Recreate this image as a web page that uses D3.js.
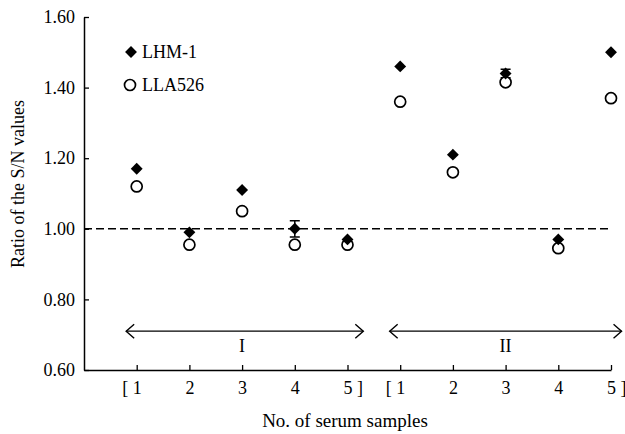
<!DOCTYPE html>
<html>
<head>
<meta charset="utf-8">
<script src="https://cdn.jsdelivr.net/npm/d3@7"></script>
<style>
  body { margin: 0; background: #fff; }
</style>
</head>
<body>
<script>
// sample positions 1..10 (two groups of five)
var positions = [1, 2, 3, 4, 5, 6, 7, 8, 9, 10];
var tickLabels = ["1", "2", "3", "4", "5", "1", "2", "3", "4", "5"];
var lhm1 = [1.17, 0.99, 1.11, 1.00, 0.97, 1.46, 1.21, 1.44, 0.97, 1.50];
var lhm1Err = [0, 0, 0, 0.023, 0, 0, 0, 0.012, 0, 0];
var lla526 = [1.12, 0.955, 1.05, 0.955, 0.955, 1.36, 1.16, 1.415, 0.945, 1.37];
var yTicks = [0.60, 0.80, 1.00, 1.20, 1.40, 1.60];
var groups = [{label: "I", from: 0.8, to: 5.3, mid: 3}, {label: "II", from: 5.8, to: 10.2, mid: 8}];

var FONT = "'Liberation Serif'";
var FS = 18;

var width = 625, height = 434;
var svg = d3.select("body").append("svg")
  .attr("width", width).attr("height", height);

var x = d3.scaleLinear().domain([0, 10]).range([84, 611]);
var y = d3.scaleLinear().domain([0.60, 1.60]).range([370, 17]);

// y axis
var yAxis = d3.axisLeft(y).tickValues(yTicks).tickSize(-5).tickSizeOuter(0)
  .tickFormat(d3.format(".2f"));
var gy = svg.append("g").attr("transform", "translate(" + x(0) + ",0)").call(yAxis)
  .attr("font-size", FS);
gy.select(".domain").attr("stroke-width", 1.5);
gy.selectAll(".tick line").attr("stroke-width", 1.3);
gy.selectAll(".tick text").attr("x", -9);

// x axis
var xAxis = d3.axisBottom(x).tickValues(positions).tickSize(-5).tickSizeOuter(0)
  .tickFormat(function(d, i) { return tickLabels[i]; });
var gx = svg.append("g").attr("transform", "translate(0," + y(0.60) + ")").call(xAxis)
  .attr("font-size", FS);
gx.select(".domain").attr("stroke-width", 1.5);
gx.selectAll(".tick line").attr("stroke-width", 1.3);
gx.selectAll(".tick text").attr("y", 11);

// brackets around each group
gx.selectAll(".tick").each(function(d, i) {
  if (i == 0 || i == 5) {
    d3.select(this).append("text").attr("y", 11).attr("dy", "0.71em")
      .attr("x", -9).attr("text-anchor", "end").text("[");
  }
  if (i == 4 || i == 9) {
    d3.select(this).append("text").attr("y", 11).attr("dy", "0.71em")
      .attr("x", 9).attr("text-anchor", "start").text("]");
  }
});

// axis titles
svg.append("text").attr("x", 345).attr("y", 427).attr("text-anchor", "middle")
  .attr("font-size", 19).text("No. of serum samples");
svg.append("text").attr("transform", "translate(24,184) rotate(-90)")
  .attr("text-anchor", "middle").attr("font-size", FS).text("Ratio of the S/N values");

// dashed reference line at 1.00
svg.append("line").attr("x1", x(0)).attr("x2", x(10)).attr("y1", y(1)).attr("y2", y(1))
  .attr("stroke", "#000").attr("stroke-width", 1.4).attr("stroke-dasharray", "8,4");

// group arrows
var arrowY = y(0.71);
groups.forEach(function(g) {
  var x1 = x(g.from), x2 = x(g.to);
  svg.append("line").attr("x1", x1).attr("x2", x2).attr("y1", arrowY).attr("y2", arrowY)
    .attr("stroke", "#000").attr("stroke-width", 1.4);
  svg.append("path").attr("d", "M" + (x1 + 8) + "," + (arrowY - 7) + "L" + x1 + "," + arrowY + "L" + (x1 + 8) + "," + (arrowY + 7))
    .attr("fill", "none").attr("stroke", "#000").attr("stroke-width", 1.4);
  svg.append("path").attr("d", "M" + (x2 - 8) + "," + (arrowY - 7) + "L" + x2 + "," + arrowY + "L" + (x2 - 8) + "," + (arrowY + 7))
    .attr("fill", "none").attr("stroke", "#000").attr("stroke-width", 1.4);
  svg.append("text").attr("x", x(g.mid)).attr("y", arrowY + 21).attr("text-anchor", "middle")
    .attr("font-size", FS).text(g.label);
});

// error bars
var errData = positions.map(function(p, i) { return {p: p, v: lhm1[i], e: lhm1Err[i]}; })
  .filter(function(d) { return d.e > 0; });
svg.selectAll(".err").data(errData).enter().append("path")
  .attr("d", function(d) {
    var cx = x(d.p), t = y(d.v + d.e), b = y(d.v - d.e);
    return "M" + cx + "," + t + "V" + b + "M" + (cx - 5) + "," + t + "H" + (cx + 5) + "M" + (cx - 5) + "," + b + "H" + (cx + 5);
  })
  .attr("stroke", "#000").attr("stroke-width", 1.5).attr("fill", "none");

// LLA526 open circles
svg.selectAll(".lla").data(lla526).enter().append("circle")
  .attr("cx", function(d, i) { return x(positions[i]); })
  .attr("cy", function(d) { return y(d); })
  .attr("r", 5.5).attr("fill", "#fff").attr("stroke", "#000").attr("stroke-width", 1.7);

// LHM-1 filled diamonds
var diamond = d3.symbol().type(d3.symbolDiamond2).size(90);
svg.selectAll(".lhm").data(lhm1).enter().append("path")
  .attr("d", diamond)
  .attr("transform", function(d, i) { return "translate(" + x(positions[i]) + "," + y(d) + ")"; })
  .attr("fill", "#000");

// legend
svg.append("path").attr("d", diamond).attr("transform", "translate(131,52)").attr("fill", "#000");
svg.append("text").attr("x", 142).attr("y", 58).attr("font-size", FS).text("LHM-1");
svg.append("circle").attr("cx", 130).attr("cy", 85).attr("r", 5.5)
  .attr("fill", "#fff").attr("stroke", "#000").attr("stroke-width", 1.7);
svg.append("text").attr("x", 142).attr("y", 91).attr("font-size", FS).text("LLA526");

// serif face for every label, including the axis ticks
svg.selectAll("text").style("font-family", FONT).attr("fill", "#000");
</script>
</body>
</html>
